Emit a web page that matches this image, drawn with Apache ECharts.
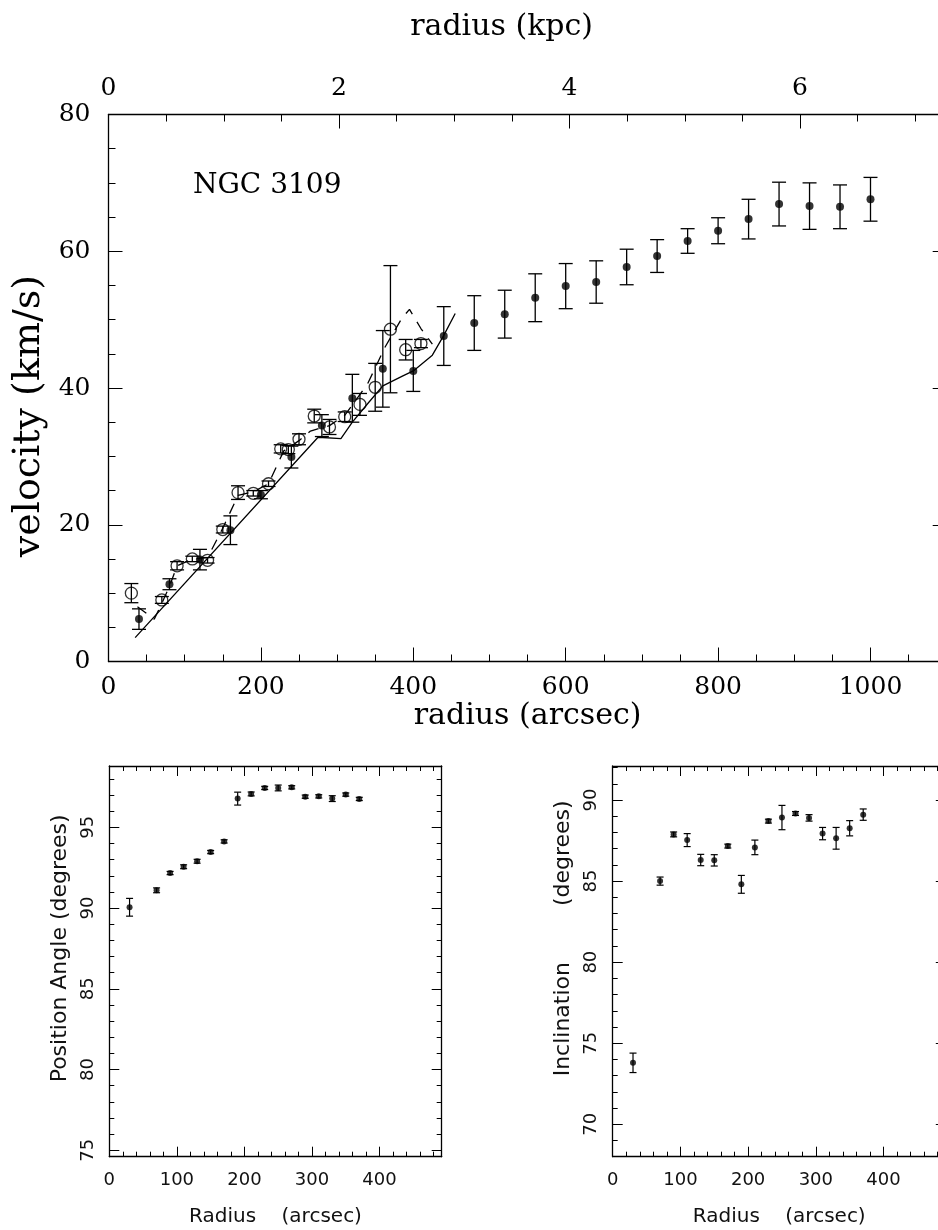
<!DOCTYPE html>
<html>
<head>
<meta charset="utf-8">
<title>NGC 3109 rotation curve</title>
<script src="https://cdn.jsdelivr.net/npm/echarts@6/dist/echarts.min.js"></script>
<style>
  html, body { margin: 0; padding: 0; background: #fff; }
  #main { width: 938px; height: 1230px; }
</style>
</head>
<body>
<div id="main"></div>
<script>
// rotation curve, filled points (radius arcsec, velocity km/s, error)
var fillR = [40, 80, 120, 160, 200, 240, 280, 320, 360, 400, 440, 480, 520, 560, 600, 640, 680, 720, 760, 800, 840, 880, 920, 960, 1000];
var fillV = [6.2, 11.3, 14.9, 19.2, 24.4, 29.9, 34.5, 38.5, 42.8, 42.5, 47.6, 49.5, 50.8, 53.2, 54.9, 55.5, 57.7, 59.3, 61.5, 63.0, 64.7, 66.9, 66.6, 66.5, 67.6];
var fillE = [1.5, 0.8, 1.5, 2.1, 0.6, 1.6, 1.6, 3.5, 5.6, 3.0, 4.3, 4.0, 3.5, 3.5, 3.3, 3.1, 2.6, 2.4, 1.8, 1.9, 2.9, 3.2, 3.4, 3.2, 3.2];
// open points
var openR = [30, 70, 90, 110, 130, 150, 170, 190, 210, 226, 236, 250, 270, 290, 310, 330, 350, 370, 390, 410];
var openV = [10.0, 9.0, 14.0, 15.0, 14.8, 19.3, 24.7, 24.6, 26.0, 31.1, 31.0, 32.5, 35.9, 34.3, 35.8, 37.6, 40.1, 48.6, 45.6, 46.5];
var openE = [1.4, 0.5, 0.6, 0.4, 0.4, 0.5, 1.0, 0.4, 0.4, 0.6, 0.6, 0.8, 1.0, 1.1, 0.7, 1.6, 3.5, 9.3, 1.5, 0.6];
// model curves
var solidR = [35, 275, 305, 320, 340, 360, 385, 400, 425, 440, 455];
var solidV = [3.5, 32.8, 32.6, 35.0, 37.7, 40.3, 41.7, 42.5, 44.8, 47.7, 50.9];
var dashR = [38, 60, 70, 80, 90, 110, 130, 150, 170, 190, 210, 230, 250, 265, 290, 310, 340, 363, 385, 395, 410, 425];
var dashV = [8.0, 6.2, 8.5, 11.0, 14.0, 15.0, 15.2, 19.5, 24.3, 24.8, 26.0, 30.8, 32.3, 33.7, 34.5, 36.0, 40.6, 46.0, 50.2, 51.5, 48.7, 46.4];
// tilted ring fits
var ringR = [30, 70, 90, 110, 130, 150, 170, 190, 210, 230, 250, 270, 290, 310, 330, 350, 370];
var paV = [90.05, 91.1, 92.17, 92.56, 92.9, 93.47, 94.13, 96.78, 97.07, 97.44, 97.44, 97.48, 96.9, 96.92, 96.78, 97.03, 96.76];
var paE = [0.55, 0.15, 0.1, 0.12, 0.12, 0.1, 0.1, 0.4, 0.12, 0.1, 0.18, 0.1, 0.1, 0.1, 0.18, 0.1, 0.1];
var incV = [73.79, 85.0, 87.88, 87.53, 86.3, 86.28, 87.16, 84.8, 87.08, 88.7, 88.92, 89.17, 88.9, 87.93, 87.64, 88.26, 89.1];
var incE = [0.6, 0.25, 0.15, 0.4, 0.35, 0.35, 0.12, 0.55, 0.45, 0.12, 0.75, 0.12, 0.2, 0.38, 0.67, 0.47, 0.35];

var kpcMax = 1100 / 151.25;

var serif = 'DejaVu Serif';
var sans = 'DejaVu Sans';

function pairs(xs, ys) {
  return xs.map(function (x, i) { return [x, ys[i]]; });
}
function bars(xs, ys, es) {
  return xs.map(function (x, i) { return [x, ys[i] - es[i], ys[i] + es[i]]; });
}
function plain(v) { return String(v); }

function errSeries(data, xi, yi, cap, lw) {
  return {
    type: 'custom', xAxisIndex: xi, yAxisIndex: yi, data: data, silent: true, z: 2,
    encode: { x: 0, y: [1, 2] },
    renderItem: function (params, api) {
      var a = api.coord([api.value(0), api.value(1)]);
      var b = api.coord([api.value(0), api.value(2)]);
      var st = { stroke: '#000', lineWidth: lw };
      return {
        type: 'group', children: [
          { type: 'line', shape: { x1: a[0], y1: a[1], x2: b[0], y2: b[1] }, style: st },
          { type: 'line', shape: { x1: a[0] - cap, y1: a[1], x2: a[0] + cap, y2: a[1] }, style: st },
          { type: 'line', shape: { x1: b[0] - cap, y1: b[1], x2: b[0] + cap, y2: b[1] }, style: st }
        ]
      };
    }
  };
}

var axLine = { onZero: false, lineStyle: { color: '#000', width: 1.3 } };

// helper for the small panels
function smallX(grid, pos, labels) {
  return {
    type: 'value', gridIndex: grid, position: pos, min: 0, max: 492, interval: 100,
    axisLine: axLine,
    axisTick: { inside: true, length: 10, lineStyle: { color: '#000' } },
    minorTick: { show: true, splitNumber: 5, length: 5, lineStyle: { color: '#000' } },
    splitLine: { show: false },
    axisLabel: { show: labels, showMaxLabel: false, margin: 15, color: '#111', fontFamily: sans, fontSize: 18, formatter: plain },
    name: labels ? 'Radius    (arcsec)' : '', nameLocation: 'middle', nameGap: 50,
    nameTextStyle: { color: '#111', fontFamily: sans, fontSize: 20 }
  };
}
function smallY(grid, pos, min, max, labels, name, pad) {
  return {
    type: 'value', gridIndex: grid, position: pos, min: min, max: max, splitNumber: 5,
    axisLine: axLine,
    axisTick: { inside: true, length: 10, lineStyle: { color: '#000' } },
    minorTick: { show: true, splitNumber: 5, length: 5, lineStyle: { color: '#000' } },
    splitLine: { show: false },
    axisLabel: { show: labels, rotate: 90, margin: 12, showMinLabel: false, showMaxLabel: false, color: '#111', fontFamily: sans, fontSize: 18 },
    name: labels ? name : '', nameLocation: 'middle', nameGap: 38,
    nameTextStyle: { color: '#111', fontFamily: sans, fontSize: 22, padding: pad }
  };
}

var chart = echarts.init(document.getElementById('main'));

var option = {
  animation: false,
  backgroundColor: '#fff',
  title: {
    text: 'NGC 3109', left: 193, top: 172, padding: 0,
    textStyle: { fontFamily: serif, fontSize: 28, fontWeight: 'normal', color: '#000' }
  },
  grid: [
    { left: 108.5, width: 838.2, top: 114.5, height: 547, outerBoundsMode: 'none' },
    { left: 109.3, width: 332.4, top: 766, height: 390.7, outerBoundsMode: 'none' },
    { left: 612.7, width: 333.1, top: 766, height: 390.7, outerBoundsMode: 'none' }
  ],
  xAxis: [
    {
      type: 'value', gridIndex: 0, position: 'bottom', min: 0, max: 1100, interval: 200,
      axisLine: axLine,
      axisTick: { inside: true, length: 14, lineStyle: { color: '#000' } },
      minorTick: { show: true, splitNumber: 4, length: 7, lineStyle: { color: '#000' } },
      splitLine: { show: false },
      axisLabel: { showMaxLabel: false, margin: 13, color: '#000', fontFamily: serif, fontSize: 25, formatter: plain },
      name: 'radius (arcsec)', nameLocation: 'middle', nameGap: 40,
      nameTextStyle: { color: '#000', fontFamily: serif, fontSize: 30 }
    },
    {
      type: 'value', gridIndex: 0, position: 'top', min: 0, max: kpcMax, interval: 2,
      axisLine: axLine,
      axisTick: { inside: true, length: 14, lineStyle: { color: '#000' } },
      minorTick: { show: true, splitNumber: 4, length: 7, lineStyle: { color: '#000' } },
      splitLine: { show: false },
      axisLabel: { showMaxLabel: false, margin: 14, color: '#000', fontFamily: serif, fontSize: 25, formatter: plain },
      name: 'radius (kpc)', nameLocation: 'middle', nameGap: 72,
      nameTextStyle: { color: '#000', fontFamily: serif, fontSize: 30, padding: [0, 52, 0, 0] }
    },
    smallX(1, 'bottom', true),
    smallX(1, 'top', false),
    smallX(2, 'bottom', true),
    smallX(2, 'top', false)
  ],
  yAxis: [
    {
      type: 'value', gridIndex: 0, position: 'left', min: 0, max: 80, interval: 20,
      axisLine: axLine,
      axisTick: { inside: true, length: 14, lineStyle: { color: '#000' } },
      minorTick: { show: true, splitNumber: 4, length: 7, lineStyle: { color: '#000' } },
      splitLine: { show: false },
      axisLabel: { margin: 18, color: '#000', fontFamily: serif, fontSize: 25 },
      name: 'velocity (km/s)', nameLocation: 'middle', nameGap: 52,
      nameTextStyle: { color: '#000', fontFamily: serif, fontSize: 38, padding: [0, 56, 0, 0] }
    },
    {
      type: 'value', gridIndex: 0, position: 'right', min: 0, max: 80, interval: 20,
      axisLine: axLine,
      axisTick: { inside: true, length: 14, lineStyle: { color: '#000' } },
      minorTick: { show: true, splitNumber: 4, length: 7, lineStyle: { color: '#000' } },
      splitLine: { show: false },
      axisLabel: { show: false }
    },
    smallY(1, 'left', 74.6, 98.8, true, 'Position Angle (degrees)', [0, 0, 0, 26]),
    smallY(1, 'right', 74.6, 98.8, false, '', 0),
    smallY(2, 'left', 68, 92.1, true, 'Inclination        (degrees)', [0, 0, 0, 46]),
    smallY(2, 'right', 68, 92.1, false, '', 0)
  ],
  series: [
    {
      type: 'line', xAxisIndex: 0, yAxisIndex: 0, data: pairs(solidR, solidV),
      symbol: 'none', lineStyle: { color: '#000', width: 1.3 }, z: 1
    },
    {
      type: 'line', xAxisIndex: 0, yAxisIndex: 0, data: pairs(dashR, dashV),
      symbol: 'none', lineStyle: { color: '#000', width: 1.3, type: [11, 9] }, z: 1
    },
    errSeries(bars(fillR, fillV, fillE), 0, 0, 7, 1.3),
    errSeries(bars(openR, openV, openE), 0, 0, 7, 1.3),
    {
      type: 'scatter', xAxisIndex: 0, yAxisIndex: 0, data: pairs(openR, openV),
      symbol: 'circle', symbolSize: 12, z: 3,
      itemStyle: { color: 'rgba(0,0,0,0)', borderColor: '#000', borderWidth: 1.3 }
    },
    {
      type: 'scatter', xAxisIndex: 0, yAxisIndex: 0, data: pairs(fillR, fillV),
      symbol: 'circle', symbolSize: 8, z: 4, itemStyle: { color: '#000' }
    },
    errSeries(bars(ringR, paV, paE), 2, 2, 3.5, 1.2),
    {
      type: 'scatter', xAxisIndex: 2, yAxisIndex: 2, data: pairs(ringR, paV),
      symbol: 'circle', symbolSize: 6, z: 4, itemStyle: { color: '#000' }
    },
    errSeries(bars(ringR, incV, incE), 4, 4, 3.5, 1.2),
    {
      type: 'scatter', xAxisIndex: 4, yAxisIndex: 4, data: pairs(ringR, incV),
      symbol: 'circle', symbolSize: 6, z: 4, itemStyle: { color: '#000' }
    }
  ]
};

chart.setOption(option);
</script>
</body>
</html>
